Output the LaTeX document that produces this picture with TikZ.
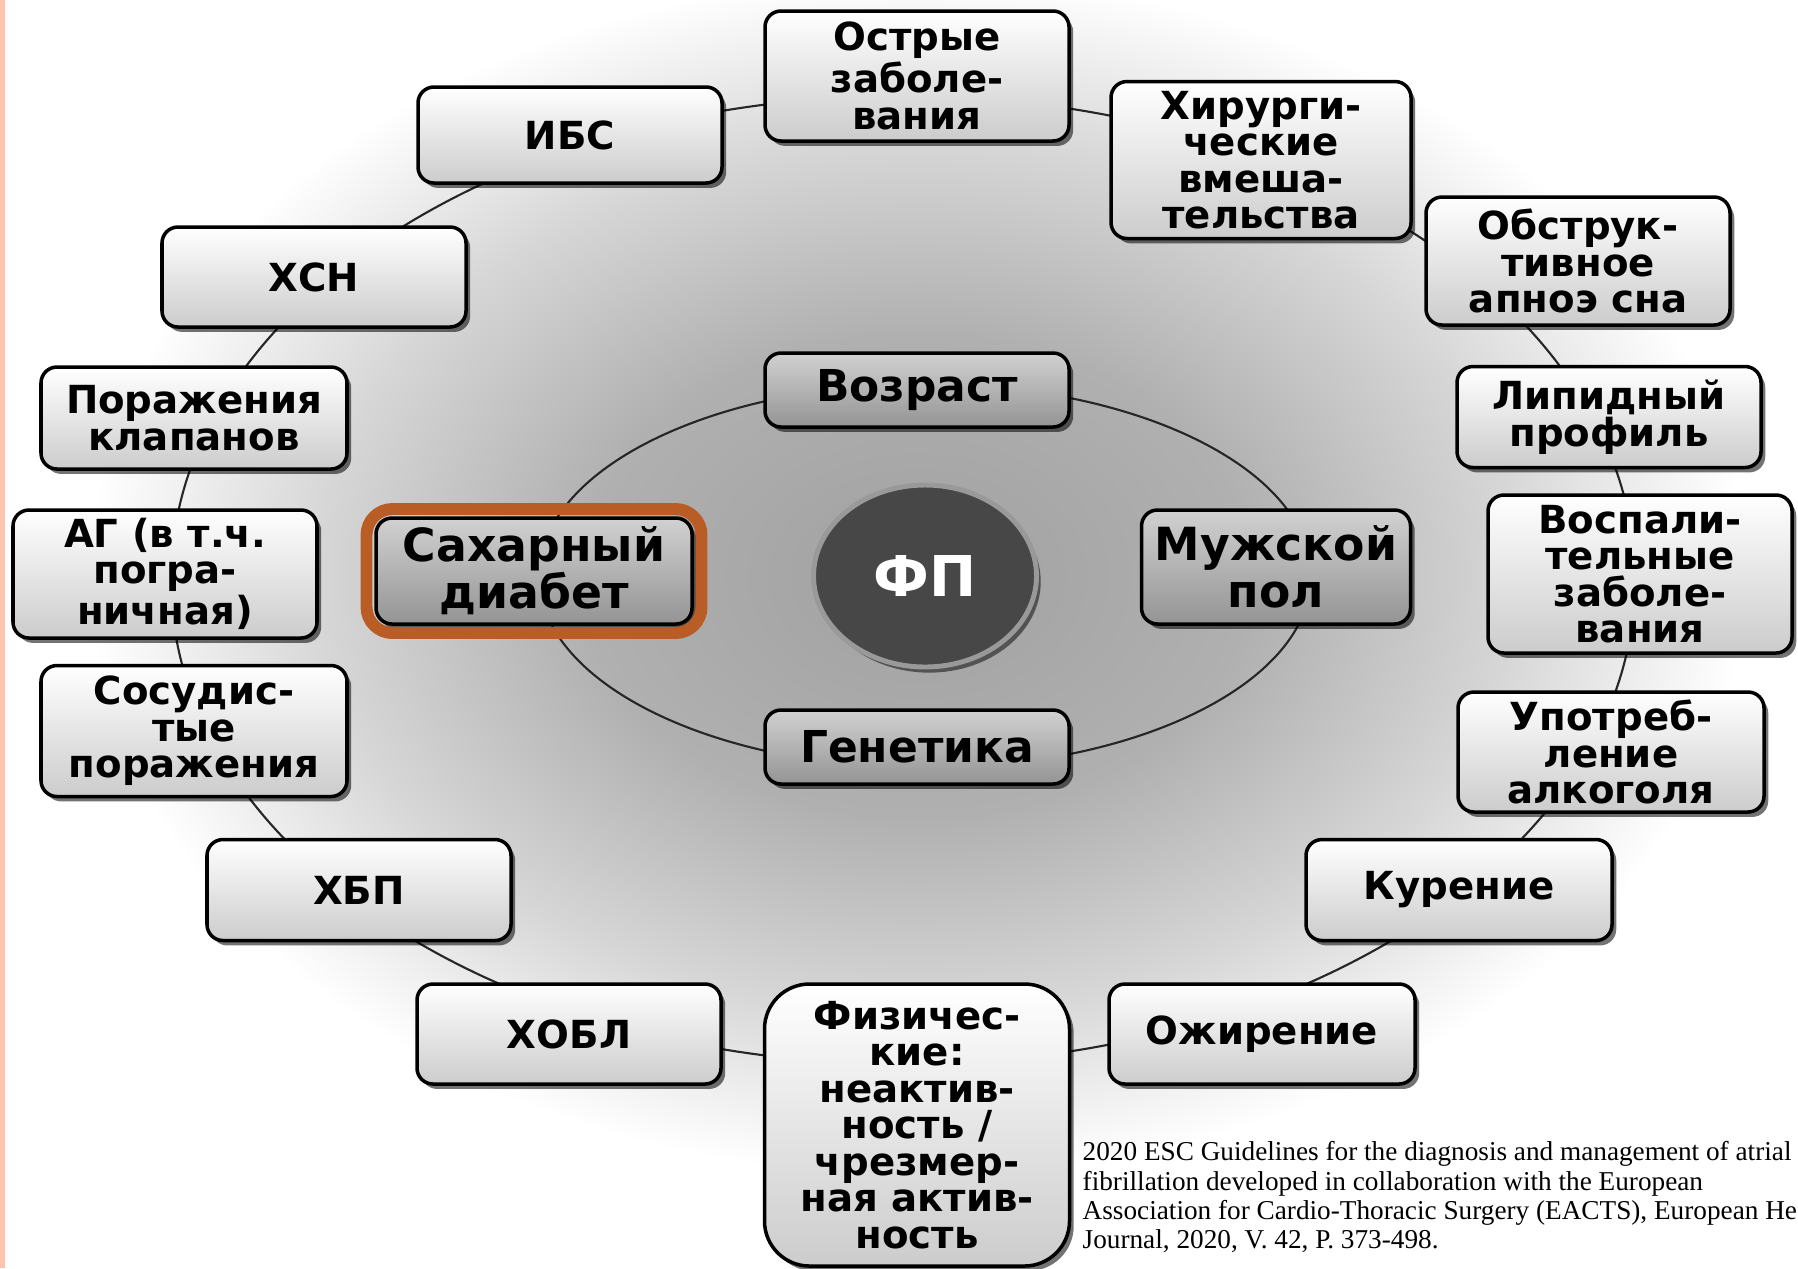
\documentclass[tikz,border=0pt]{standalone}
\usepackage{fontspec}
\setmainfont{DejaVu Sans}
\newfontfamily\citefont{Liberation Serif}
\usetikzlibrary{shapes.geometric, shadows}
\definecolor{framebrown}{RGB}{186,92,38}
\definecolor{stripepink}{RGB}{255,196,176}
% grey glow behind the two rings
\pgfdeclareradialshading{ring glow}{\pgfpoint{0bp}{0bp}}{%
  color(0bp)=(black!37); color(10bp)=(black!31); color(18bp)=(black!16);
  color(25bp)=(white); color(50bp)=(white)}
\tikzset{
  factor box/.style={
    draw=black, line width=1pt, rounded corners=1.6mm,
    top color=white, bottom color=black!20,
    drop shadow={shadow xshift=1.2pt, shadow yshift=-1.4pt, opacity=.55, fill=black},
    minimum width=30.4mm, align=center, inner sep=1pt,
    font=\bfseries\fontsize{11pt}{10.4pt}\selectfont
  },
  core box/.style={
    factor box, top color=black!18, bottom color=black!42,
    font=\bfseries\fontsize{12.5pt}{12pt}\selectfont
  },
  ring line/.style={draw=black!85, line width=0.6pt}
}

\begin{document}
\begin{tikzpicture}[x=0.1mm, y=-0.1mm]
    \useasboundingbox (0,0) rectangle (1798,1268);
    \clip (0,0) rectangle (1798,1268);

    % background and the pink margin
    \shade[shading=ring glow] (917,576) ellipse [x radius=830, y radius=600];
    \fill[stripepink] (0,0) rectangle (4.5,1268);

    % centres of the two rings
    \coordinate (core) at (925,576);
    \coordinate (ring) at (903,580);
    \draw[ring line] (ring) ellipse [x radius=732, y radius=484]; % outer ring
    \draw[ring line] (core) ellipse [x radius=386, y radius=192]; % inner ring

    % outer ring of factors
    \node[factor box, minimum height=13mm] (acute) at (917,76) {Острые\\заболе-\\вания};
    \node[factor box, minimum height=9.6mm] (ihd) at (570,135) {ИБС};
    \node[factor box, minimum width=30mm, minimum height=15.7mm] (surgery) at (1261,160) {Хирурги-\\ческие\\вмеша-\\тельства};
    \node[factor box, minimum height=10mm] (chf) at (314,277) {ХСН};
    \node[factor box, minimum height=12.8mm] (osa) at (1578,261) {Обструк-\\тивное\\апноэ сна};
    \node[factor box, minimum width=30.6mm, minimum height=10.2mm] (valve) at (194,418) {Поражения\\клапанов};
    \node[factor box, minimum height=10.1mm] (lipid) at (1609,417) {Липидный\\профиль};
    \node[factor box, minimum height=12.8mm] (htn) at (165,574) {АГ (в т.ч.\\погра-\\ничная)};
    \node[factor box, minimum height=15.8mm] (inflam) at (1640,574) {Воспали-\\тельные\\заболе-\\вания};
    \node[factor box, minimum width=30.6mm, minimum height=13.1mm] (vascular) at (194,731) {Сосудис-\\тые\\поражения};
    \node[factor box, minimum width=30.6mm, minimum height=12mm] (alcohol) at (1611,752) {Употреб-\\ление\\алкоголя};
    \node[factor box, minimum height=10.1mm] (ckd) at (359,890) {ХБП};
    \node[factor box, minimum width=30.6mm, minimum height=10.1mm] (smoking) at (1459,890) {Курение};
    \node[factor box, minimum height=10mm] (copd) at (569,1034) {ХОБЛ};
    \node[factor box, minimum width=30.6mm, minimum height=10mm] (obesity) at (1262,1034) {Ожирение};
    \node[factor box, minimum width=30.5mm, minimum height=28.2mm, rounded corners=4.5mm] (activity) at (917,1125)
      {Физичес-\\кие:\\неактив-\\ность /\\чрезмер-\\ная актив-\\ность};

    % inner ring
    \node[core box, minimum height=7.4mm] (age) at (917,390) {Возраст};
    \node[core box, minimum height=7.4mm] (genetics) at (917,747) {Генетика};
    \node[core box, minimum width=31.6mm, minimum height=10.6mm,
      font=\bfseries\fontsize{13pt}{13.4pt}\selectfont] (diabetes) at (534,571) {Сахарный\\диабет};
    \node[core box, minimum width=26.9mm, minimum height=11.4mm,
      font=\bfseries\fontsize{13pt}{13.4pt}\selectfont] (male) at (1276,567) {Мужской\\пол};
    \node[draw=framebrown, line width=3.4pt, rounded corners=2.6mm,
      minimum width=33.5mm, minimum height=12.4mm] (diabetes frame) at (diabetes.center) {};

    % AF in the middle
    \node[ellipse, fill=black!72, draw=black!40, line width=1.4pt, inner sep=0,
      minimum width=22.3mm, minimum height=18.2mm, text=white,
      font=\bfseries\fontsize{16pt}{16pt}\selectfont,
      drop shadow={shadow xshift=1.2pt, shadow yshift=-1.6pt, opacity=.5, fill=black}] (fp) at (core) {ФП};

    % source
    \node[anchor=north west, align=left, inner sep=0,
      font=\citefont\fontsize{7.75pt}{8.3pt}\selectfont] (source) at (1082,1141)
      {2020 ESC Guidelines for the diagnosis and management of atrial\\
       fibrillation developed in collaboration with the European\\
       Association for Cardio-Thoracic Surgery (EACTS), European Heart\\
       Journal, 2020, V. 42, P. 373-498.};
\end{tikzpicture}
\end{document}
